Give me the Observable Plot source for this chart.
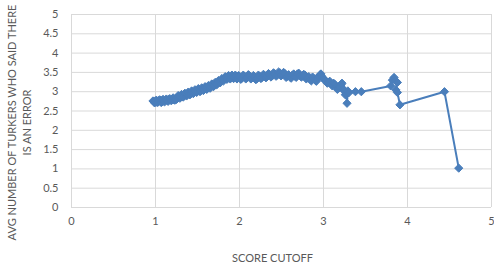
<!DOCTYPE html>
<html><head>
<meta charset="utf-8">
<script src="https://cdn.jsdelivr.net/npm/d3@7"></script>
<script src="https://cdn.jsdelivr.net/npm/@observablehq/plot@0.6"></script>
<style>body{margin:0;background:#fff}</style>
</head><body><div id="chart"></div>
<script>
const scoreCutoff = [0.98,1.00,1.02,1.04,1.06,1.08,1.10,1.12,1.14,1.16,1.18,1.20,1.22,1.24,1.26,1.28,1.30,1.32,1.34,1.36,1.38,1.40,1.42,1.44,1.46,1.48,1.50,1.52,1.54,1.56,1.58,1.60,1.62,1.64,1.66,1.68,1.70,1.72,1.74,1.76,1.78,1.80,1.82,1.84,1.86,1.88,1.90,1.92,1.94,1.96,1.98,2.00,2.03,2.06,2.09,2.12,2.15,2.18,2.21,2.24,2.27,2.30,2.33,2.36,2.39,2.42,2.45,2.48,2.51,2.54,2.57,2.60,2.63,2.66,2.69,2.72,2.75,2.78,2.81,2.84,2.87,2.90,2.93,2.96,2.98,3.00,3.03,3.06,3.09,3.12,3.15,3.18,3.21,3.23,3.25,3.27,3.28,3.30,3.38,3.45,3.80,3.82,3.84,3.86,3.88,3.86,3.88,3.91,4.44,4.61];
const avgTurkers = [2.74,2.76,2.72,2.77,2.74,2.78,2.75,2.79,2.77,2.80,2.78,2.81,2.79,2.82,2.84,2.87,2.86,2.90,2.89,2.93,2.92,2.96,2.95,2.99,2.98,3.02,3.01,3.05,3.03,3.07,3.06,3.10,3.09,3.13,3.12,3.17,3.16,3.21,3.22,3.26,3.28,3.31,3.33,3.36,3.35,3.38,3.36,3.39,3.37,3.40,3.36,3.39,3.35,3.40,3.37,3.41,3.36,3.38,3.34,3.40,3.37,3.42,3.39,3.44,3.41,3.46,3.43,3.49,3.44,3.47,3.40,3.38,3.43,3.40,3.46,3.42,3.40,3.43,3.36,3.32,3.38,3.30,3.36,3.44,3.40,3.33,3.28,3.25,3.20,3.22,3.14,3.10,3.18,3.08,3.02,2.96,2.70,2.97,3.00,3.00,3.15,3.30,3.37,3.28,3.24,3.05,2.98,2.66,3.00,1.02];
// additional readings along the dense band (x < 3.3)
const scoreCutoffDense = [0.97,0.99,1.01,1.03,1.05,1.07,1.09,1.11,1.13,1.15,1.17,1.19,1.21,1.23,1.25,1.27,1.29,1.31,1.33,1.35,1.37,1.39,1.41,1.43,1.45,1.47,1.49,1.51,1.53,1.55,1.57,1.59,1.61,1.63,1.65,1.67,1.69,1.71,1.73,1.75,1.77,1.79,1.81,1.83,1.85,1.87,1.89,1.91,1.93,1.95,1.97,1.99,2.015,2.045,2.075,2.105,2.135,2.165,2.195,2.225,2.255,2.285,2.315,2.345,2.375,2.405,2.435,2.465,2.495,2.525,2.555,2.585,2.615,2.645,2.675,2.705,2.735,2.765,2.795,2.825,2.855,2.885,2.915,2.945,2.97,2.99,3.015,3.045,3.075,3.105,3.135,3.165,3.195,3.22,3.24,3.26,3.29];
const avgTurkersDense = [2.76,2.71,2.78,2.73,2.79,2.72,2.80,2.74,2.81,2.75,2.82,2.77,2.84,2.78,2.80,2.90,2.83,2.93,2.86,2.96,2.89,2.99,2.92,3.02,2.95,3.05,2.98,3.08,3.00,3.10,3.03,3.13,3.06,3.16,3.09,3.20,3.13,3.24,3.18,3.29,3.23,3.34,3.28,3.39,3.32,3.42,3.33,3.43,3.34,3.43,3.33,3.42,3.32,3.43,3.33,3.44,3.33,3.42,3.31,3.43,3.34,3.45,3.36,3.47,3.38,3.49,3.40,3.51,3.41,3.50,3.37,3.44,3.35,3.46,3.37,3.48,3.38,3.45,3.33,3.39,3.28,3.34,3.27,3.40,3.46,3.36,3.30,3.22,3.27,3.15,3.19,3.06,3.12,3.22,3.04,2.92,3.02];
const xTicks = [0,1,2,3,4,5];
const yTicks = [0,0.5,1,1.5,2,2.5,3,3.5,4,4.5,5];
const xTitle = "SCORE CUTOFF";
const yTitleLines = ["AVG NUMBER OF TURKERS WHO SAID THERE", "IS AN ERROR"];
const main = scoreCutoff.map((x, i) => ({x, y: avgTurkers[i], o: i}));
const dense = scoreCutoffDense.map((x, i) => ({x, y: avgTurkersDense[i]}));
// merge the dense readings into the main series in x order
const data = [];
let j = 0;
for (const p of main) {
  while (j < dense.length && dense[j].x < p.x && p.x < 3.5) data.push(dense[j++]);
  data.push(p);
}
while (j < dense.length) data.push(dense[j++]);
const blue = "#4a7ebb";
const chart = Plot.plot({
  width: 494, height: 266,
  marginLeft: 71, marginRight: 3, marginTop: 14, marginBottom: 59,
  style: {fontFamily: "Lato, 'Open Sans', sans-serif", fontSize: "11px", color: "#595959", background: "#fff"},
  x: {domain: [0, 5]},
  y: {domain: [0, 5]},
  marks: [
    Plot.gridX(xTicks, {stroke: "#d9d9d9", strokeOpacity: 1}),
    Plot.gridY(yTicks, {stroke: "#d9d9d9", strokeOpacity: 1}),
    Plot.axisX(xTicks, {tickSize: 0, tickPadding: 10, label: null, fill: "#595959", tickFormat: d => String(d)}),
    Plot.axisY(yTicks, {tickSize: 0, tickPadding: 13, label: null, fill: "#595959", tickFormat: d => String(d)}),
    Plot.line(data, {x: "x", y: "y", stroke: blue, strokeWidth: 2}),
    Plot.dot(data, {x: "x", y: "y", symbol: "diamond2", r: 3.7, fill: blue, stroke: blue, strokeWidth: 1}),
    Plot.text([xTitle], {text: d => d, frameAnchor: "bottom", lineAnchor: "middle", dy: 51, dx: -9, fill: "#595959", fontSize: 11})
  ]
});
// rotated two-line y-axis title
const svg = d3.select(chart);
const cy = (14 + 207) / 2 + 12;
const g = svg.append("g")
  .attr("font-family", "Lato, 'Open Sans', sans-serif")
  .attr("font-size", 11)
  .attr("fill", "#595959")
  .attr("text-anchor", "middle");
yTitleLines.forEach((line, i) => {
  g.append("text")
    .attr("transform", `translate(${12 + i * 15},${cy}) rotate(-90)`)
    .attr("dy", "0.35em")
    .text(line);
});
document.getElementById("chart").appendChild(chart);
</script>
</body></html>
